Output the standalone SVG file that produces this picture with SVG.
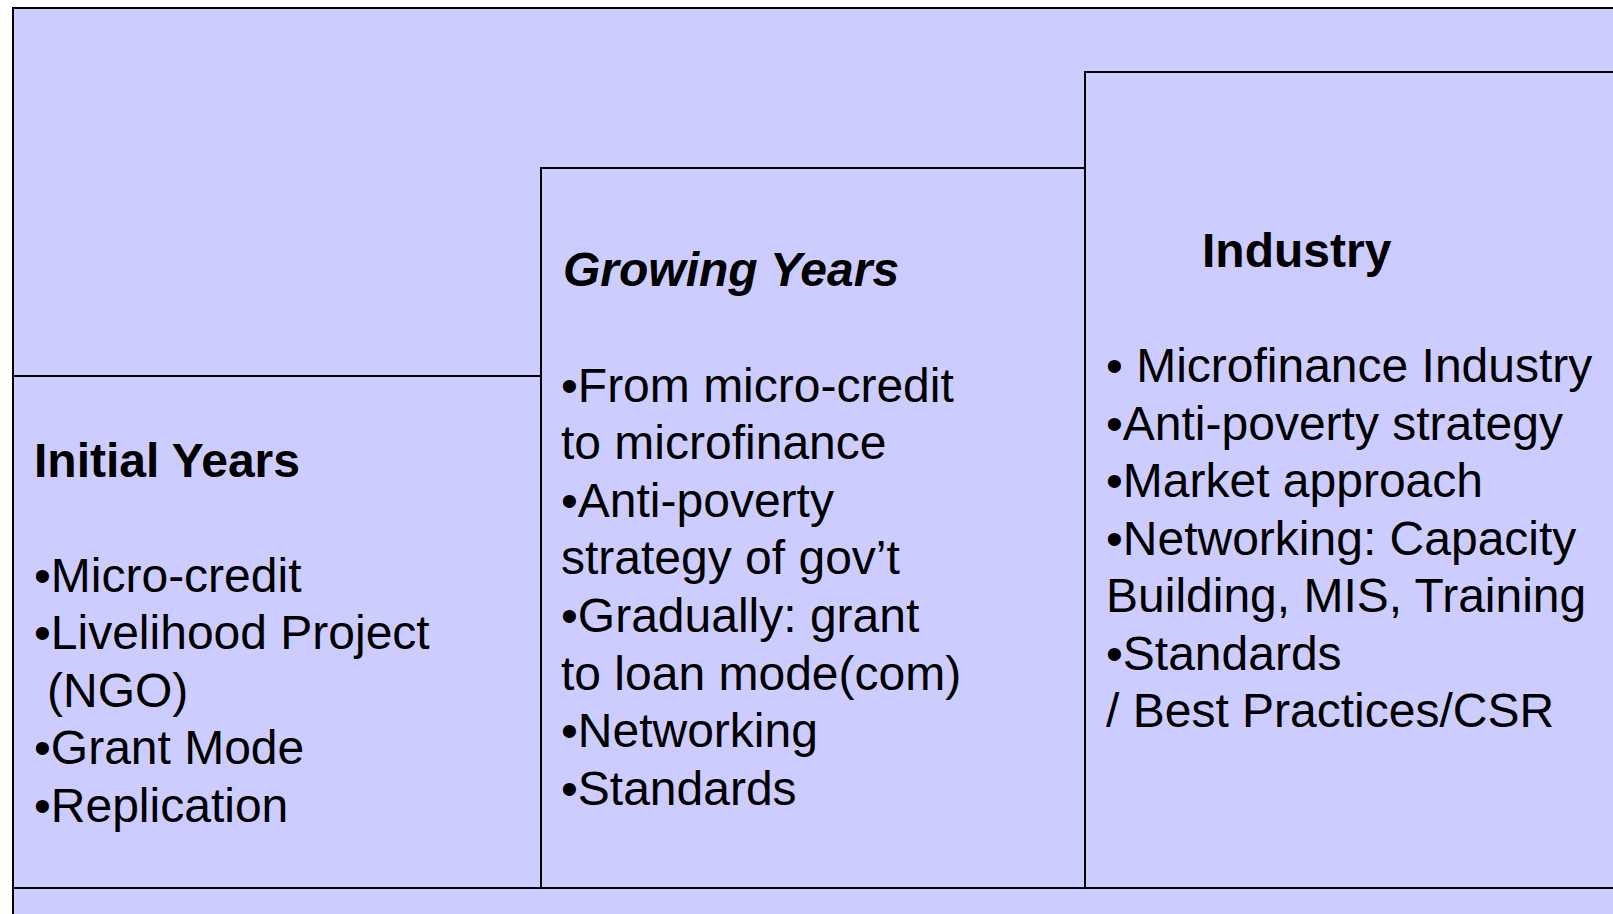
<svg xmlns="http://www.w3.org/2000/svg" width="1613" height="914" viewBox="0 0 1613 914">
<style>
.box{fill:#CCCCFF;stroke:#000;stroke-width:2}
.h{font-family:"Liberation Sans",Arial,sans-serif;font-size:48px;font-weight:bold;fill:#000}
.b{font-family:"Liberation Sans",Arial,sans-serif;font-size:48px;fill:#000}
</style>
<rect x="0" y="0" width="1613" height="914" fill="#fff"/>
<g id="frame"><rect class="box" x="13" y="8" width="1620" height="930"/></g>
<g id="initial">
<rect class="box" x="13" y="376" width="528" height="512"/>
<text class="h" x="34" y="477">Initial Years</text>
<text class="b" x="34" y="592">•Micro-credit</text>
<text class="b" x="34" y="649">•Livelihood Project</text>
<text class="b" x="47" y="707">(NGO)</text>
<text class="b" x="34" y="764">•Grant Mode</text>
<text class="b" x="34" y="822">•Replication</text>
</g>
<g id="growing">
<rect class="box" x="541" y="168" width="544" height="720"/>
<text class="h" x="563" y="286" font-style="italic">Growing Years</text>
<text class="b" x="561" y="402">•From micro-credit</text>
<text class="b" x="561" y="459">to microfinance</text>
<text class="b" x="561" y="517">•Anti-poverty</text>
<text class="b" x="561" y="574">strategy of gov’t</text>
<text class="b" x="561" y="632">•Gradually: grant</text>
<text class="b" x="561" y="690">to loan mode(com)</text>
<text class="b" x="561" y="747">•Networking</text>
<text class="b" x="561" y="805">•Standards</text>
</g>
<g id="industry">
<rect class="box" x="1085" y="72" width="540" height="816"/>
<text class="h" x="1202" y="267">Industry</text>
<text class="b" x="1106" y="382">• Microfinance Industry</text>
<text class="b" x="1106" y="440">•Anti-poverty strategy</text>
<text class="b" x="1106" y="497">•Market approach</text>
<text class="b" x="1106" y="555">•Networking: Capacity</text>
<text class="b" x="1106" y="612">Building, MIS, Training</text>
<text class="b" x="1106" y="670">•Standards</text>
<text class="b" x="1106" y="727">/ Best Practices/CSR</text>
</g>
<g id="bottom"><rect class="box" x="13" y="888" width="1620" height="60" stroke-width="2.5"/></g>
<g id="connectors"/>
</svg>
